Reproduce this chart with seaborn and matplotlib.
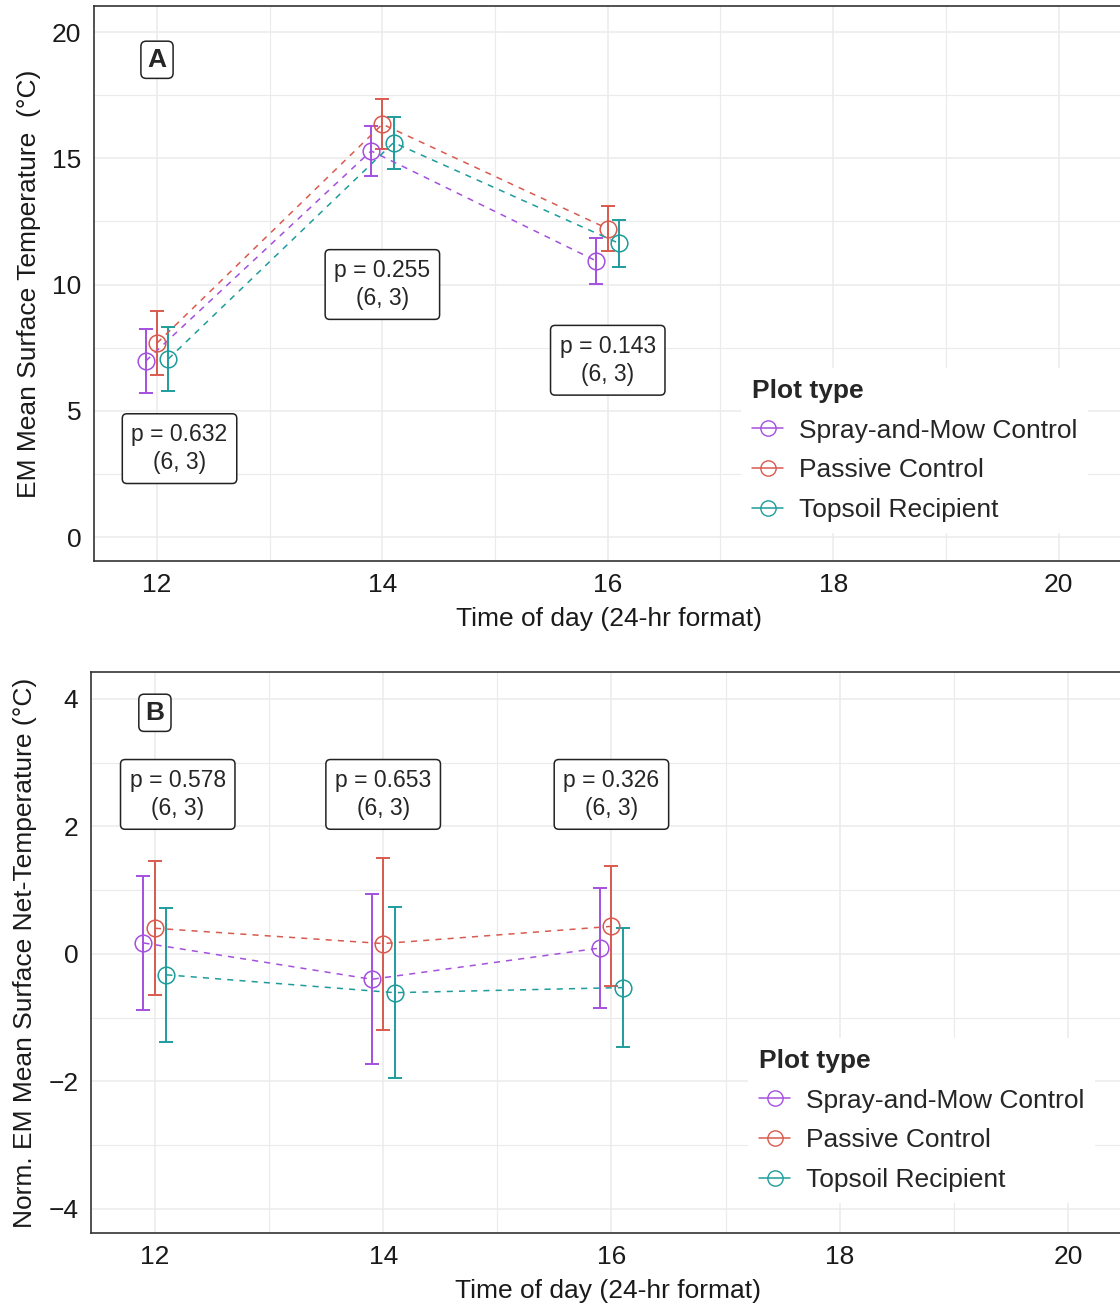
import numpy as np
import pandas as pd
import matplotlib
matplotlib.use("Agg")
import matplotlib.pyplot as plt
import seaborn as sns
from matplotlib.lines import Line2D

# Data
times = [12, 14, 16]
groups = ["Spray-and-Mow Control", "Passive Control", "Topsoil Recipient"]
colors = ["#A450DF", "#D95A4E", "#1E9C9C"]
offsets = [-0.1, 0.0, 0.1]

# Panel A: EM mean surface temperature
temp_mean = {
    "Spray-and-Mow Control": [6.97, 15.29, 10.93],
    "Passive Control": [7.68, 16.35, 12.21],
    "Topsoil Recipient": [7.05, 15.62, 11.63],
}
temp_se = {
    "Spray-and-Mow Control": [1.25, 1.00, 0.90],
    "Passive Control": [1.27, 1.00, 0.90],
    "Topsoil Recipient": [1.25, 1.03, 0.93],
}
p_vals_a = ["0.632", "0.255", "0.143"]
p_pos_a = [(12.2, 3.5), (14.0, 10.0), (16.0, 7.0)]

# Panel B: normalised net temperature
net_mean = {
    "Spray-and-Mow Control": [0.17, -0.40, 0.09],
    "Passive Control": [0.40, 0.16, 0.43],
    "Topsoil Recipient": [-0.33, -0.61, -0.53],
}
net_se = {
    "Spray-and-Mow Control": [1.05, 1.33, 0.94],
    "Passive Control": [1.05, 1.35, 0.94],
    "Topsoil Recipient": [1.05, 1.34, 0.94],
}
p_vals_b = ["0.578", "0.653", "0.326"]
p_pos_b = [(12.2, 2.5), (14.0, 2.5), (16.0, 2.5)]
df_label = "(6, 3)"


def build_df(means, ses):
    rows = []
    for g, off in zip(groups, offsets):
        for t, m, s in zip(times, means[g], ses[g]):
            rows.append({"time": t + off, "mean": m, "se": s, "group": g})
    return pd.DataFrame(rows)


sns.set_theme(style="whitegrid")
plt.rcParams["font.family"] = ["Liberation Sans", "DejaVu Sans"]

fig = plt.figure(figsize=(11.2, 13.07), dpi=100)
W, H = 1120, 1307
FS = 19


def panel(rect_px, xlim, ylim, yticks, yminor, means, ses, p_vals, p_pos,
          letter, letter_pos, ylabel, legend_px):
    l, t, r, b = rect_px
    ax = fig.add_axes([l / W, 1 - b / H, (r - l) / W, (b - t) / H])
    data = build_df(means, ses)
    palette = dict(zip(groups, colors))

    sns.lineplot(data=data, x="time", y="mean", hue="group", palette=palette,
                 hue_order=groups, ax=ax, linestyle=(0, (4, 4)), lw=1.1,
                 marker="o", markersize=12, markerfacecolor="none",
                 markeredgewidth=1.1, legend=False, zorder=3)
    for line, c in zip(ax.lines, colors):
        line.set_markeredgecolor(c)
    for g, c in zip(groups, colors):
        sub = data[data["group"] == g]
        ax.errorbar(sub["time"], sub["mean"], yerr=sub["se"], fmt="none",
                    ecolor=c, elinewidth=1.4, capsize=5, capthick=1.4, zorder=2)

    ax.set_xlim(*xlim)
    ax.set_ylim(*ylim)
    ax.set_xticks([12, 14, 16, 18, 20])
    ax.set_xticks([13, 15, 17, 19], minor=True)
    ax.set_yticks(yticks)
    ax.set_yticks(yminor, minor=True)
    ax.grid(which="major", color="#EBEBEB", lw=1.1)
    ax.grid(which="minor", color="#EBEBEB", lw=0.8)
    ax.set_facecolor("white")
    for s in ax.spines.values():
        s.set_color("#333333")
        s.set_linewidth(1.2)
    ax.tick_params(which="major", length=4, width=1.1, color="#333333",
                   labelsize=FS, labelcolor="#1a1a1a", pad=5)
    ax.tick_params(which="minor", length=0)
    ax.set_xlabel("Time of day (24-hr format)", fontsize=FS, color="#1a1a1a",
                  labelpad=7)
    ax.set_ylabel(ylabel, fontsize=FS, color="#1a1a1a", labelpad=8)

    for pv, (px, py) in zip(p_vals, p_pos):
        ax.text(px, py, f"p = {pv}\n{df_label}", ha="center", va="center",
                fontsize=16.5, linespacing=1.3, multialignment="center",
                bbox=dict(boxstyle="round,pad=0.4,rounding_size=0.2",
                          fc="white", ec="#222222", lw=1.1), zorder=5)
    ax.text(letter_pos[0], letter_pos[1], letter, ha="center", va="center",
            fontsize=FS, fontweight="bold",
            bbox=dict(boxstyle="round,pad=0.25,rounding_size=0.2",
                      fc="white", ec="#222222", lw=1.1), zorder=5)

    handles = [Line2D([0], [0], color=c, lw=1.1, linestyle="-",
                      marker="o", markersize=11, markerfacecolor="none")
               for c in colors]
    leg = ax.legend(handles, groups, title="Plot type", loc="upper left",
                    bbox_to_anchor=(legend_px[0] / W, 1 - legend_px[1] / H),
                    bbox_transform=fig.transFigure, fontsize=FS,
                    title_fontproperties={"weight": "bold", "size": FS},
                    alignment="left", frameon=True, framealpha=1,
                    edgecolor="white", fancybox=False, handlelength=1.2,
                    handletextpad=0.6, labelspacing=0.6, borderpad=0.4)
    leg.get_frame().set_linewidth(0)
    return ax


panel((94, 6, 1125, 561), (11.441, 20.59), (-0.95, 21.03), [0, 5, 10, 15, 20],
      [2.5, 7.5, 12.5, 17.5], temp_mean, temp_se, p_vals_a, p_pos_a,
      "A", (12.0, 18.9), "EM Mean Surface Temperature  (°C)", (728, 355))

panel((91, 672, 1125, 1233), (11.44, 20.5), (-4.38, 4.42), [-4, -2, 0, 2, 4],
      [-3, -1, 1, 3], net_mean, net_se, p_vals_b, p_pos_b,
      "B", (12.0, 3.78), "Norm. EM Mean Surface Net-Temperature (°C)", (735, 1025))

fig.savefig("out.png", dpi=100)
